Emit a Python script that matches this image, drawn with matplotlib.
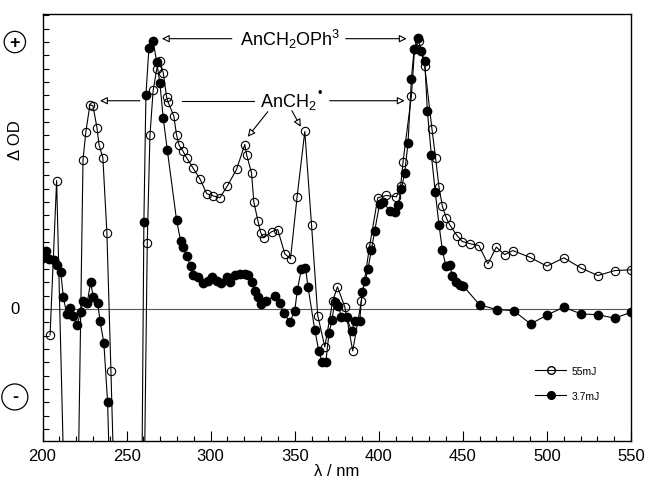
import numpy as np
import matplotlib
matplotlib.use("Agg")
import matplotlib.pyplot as plt
from matplotlib.ticker import MultipleLocator, NullFormatter
from matplotlib.lines import Line2D

plt.rcParams['font.family'] = ['Liberation Sans', 'DejaVu Sans']
plt.rcParams['mathtext.fontset'] = 'custom'
plt.rcParams['mathtext.rm'] = 'Liberation Sans'
plt.rcParams['mathtext.default'] = 'regular'

# ---- data (wavelength nm, delta OD in arbitrary units) ----
wl_55 = [204.5, 208.4, 218.0, 224.1, 225.8, 228.2, 230.0, 232.4, 233.6, 235.9,
         238.3, 240.7, 255.0, 262.3, 263.9, 265.8, 267.9, 269.8, 271.8, 273.8,
         274.7, 278.1, 279.7, 281.3, 283.3, 285.7, 289.4, 293.6, 297.7, 301.3,
         305.5, 310.0, 315.4, 320.3, 321.5, 324.3, 325.7, 328.1, 329.8, 331.6,
         336.2, 339.9, 344.1, 347.5, 351.4, 356.0, 360.0, 363.7, 367.9, 372.6,
         375.4, 379.8, 384.5, 389.7, 394.6, 399.4, 404.5, 410.5, 413.0, 414.4,
         419.4, 421.3, 423.7, 427.3, 431.6, 433.8, 435.8, 437.8, 440.2, 442.2,
         446.5, 449.7, 454.4, 459.5, 464.9, 469.9, 474.8, 479.7, 489.7, 500.0,
         510.1, 520.4, 530.3, 540.2, 550.1]
od_55 = [-0.195, 0.962, -4.0, 1.118, 1.328, 1.53, 1.523, 1.358, 1.23, 1.133,
         0.57, -0.465, -7.0, 0.493, 1.30, 1.637, 1.795, 1.858, 1.77, 1.588,
         1.55, 1.445, 1.305, 1.225, 1.187, 1.133, 1.058, 0.975, 0.863, 0.848,
         0.833, 0.923, 1.045, 1.232, 1.15, 1.02, 0.80, 0.66, 0.57, 0.533,
         0.578, 0.595, 0.413, 0.375, 0.838, 1.33, 0.63, -0.05, -0.285, 0.06,
         0.165, 0.015, -0.315, 0.062, 0.475, 0.833, 0.85, 0.84, 0.92, 1.10,
         1.595, 1.95, 2.01, 1.82, 1.35, 1.13, 0.913, 0.77, 0.68, 0.63,
         0.55, 0.505, 0.488, 0.475, 0.338, 0.463, 0.407, 0.437, 0.388, 0.32,
         0.383, 0.305, 0.25, 0.287, 0.293]

wl_37 = [200.5, 202.1, 204.0, 206.8, 208.4, 210.8, 212.4, 214.4, 216.3, 218.3,
         220.7, 222.7, 224.2, 226.6, 228.6, 230.2, 232.8, 234.2, 236.5, 238.7,
         255.0, 260.3, 261.5, 263.3, 265.8, 267.9, 269.8, 271.8, 274.2, 279.7,
         282.1, 283.7, 285.7, 288.2, 289.6, 292.6, 295.5, 298.5, 301.1, 303.5,
         305.9, 309.5, 311.8, 314.4, 317.4, 320.3, 322.1, 324.3, 326.3, 328.0,
         330.2, 333.2, 338.2, 341.1, 343.5, 347.1, 350.0, 351.6, 354.0, 356.4,
         357.9, 361.9, 364.3, 366.3, 368.5, 370.4, 372.2, 373.8, 375.8, 377.8,
         380.8, 383.9, 385.7, 388.7, 390.0, 392.0, 393.6, 395.6, 397.6, 400.5,
         402.5, 406.5, 409.5, 411.4, 413.4, 415.4, 417.4, 419.4, 421.0, 423.3,
         425.3, 427.3, 428.9, 431.3, 433.6, 435.8, 437.8, 439.8, 442.1, 443.7,
         445.7, 448.1, 450.0, 460.0, 470.2, 480.2, 490.3, 500.2, 510.0, 520.4,
         530.3, 540.2, 550.1]
od_37 = [0.38, 0.437, 0.375, 0.37, 0.33, 0.28, 0.088, -0.038, 0.005, -0.055,
         -0.118, -0.02, 0.058, 0.045, 0.20, 0.088, 0.045, -0.088, -0.257, -0.695,
         -8.0, 0.653, 1.60, 1.958, 2.01, 1.85, 1.695, 1.43, 1.193, 0.668,
         0.512, 0.463, 0.395, 0.32, 0.257, 0.238, 0.195, 0.212, 0.242, 0.212,
         0.195, 0.238, 0.20, 0.257, 0.263, 0.263, 0.257, 0.203, 0.137, 0.09,
         0.038, 0.062, 0.10, 0.045, -0.03, -0.098, -0.015, 0.145, 0.30, 0.308,
         0.165, -0.155, -0.313, -0.398, -0.398, -0.18, -0.08, 0.055, 0.025, -0.058,
         -0.063, -0.167, -0.088, -0.088, 0.125, 0.212, 0.30, 0.443, 0.587, 0.788,
         0.80, 0.737, 0.725, 0.775, 0.895, 1.02, 1.245, 1.725, 1.945, 2.03,
         1.93, 1.86, 1.48, 1.15, 0.875, 0.63, 0.443, 0.325, 0.33, 0.25,
         0.20, 0.18, 0.175, 0.03, -0.005, -0.013, -0.113, -0.045, 0.013, -0.038,
         -0.043, -0.07, -0.025]

x_ticks = [200, 250, 300, 350, 400, 450, 500, 550]
legend_labels = ['55mJ', '3.7mJ']

# ---- figure ----
fig = plt.figure(figsize=(6.5, 4.81), dpi=100)
ax = fig.add_axes([42.5 / 650, 1 - 442 / 481, 588.5 / 650, 427 / 481])

ax.axhline(0, color='0.35', lw=0.8, zorder=1)

ax.plot(wl_55, od_55, '-', color='black', lw=0.8, marker='o', ms=6,
        mfc='none', mec='black', mew=0.8, zorder=3, label=legend_labels[0])
ax.plot(wl_37, od_37, '-', color='black', lw=0.8, marker='o', ms=6,
        mfc='black', mec='black', zorder=4, label=legend_labels[1])

ax.set_xlim(200, 550)
ax.set_ylim(-0.99, 2.21)
ax.set_xticks(x_ticks)
ax.xaxis.set_minor_locator(MultipleLocator(10))
ax.yaxis.set_major_locator(MultipleLocator(0.1))
ax.yaxis.set_major_formatter(NullFormatter())
ax.tick_params(axis='x', which='major', direction='in', length=7, width=0.8,
               labelsize=12, pad=5, top=False)
ax.tick_params(axis='x', which='minor', direction='in', length=3.5, width=0.8, top=False)
ax.tick_params(axis='y', which='major', direction='in', length=4, width=0.8, right=False)
for s in ax.spines.values():
    s.set_linewidth(1.0)

ax.set_xlabel('λ / nm', fontsize=12, labelpad=0)
ax.set_ylabel('Δ OD', fontsize=12)
ax.yaxis.set_label_coords(-0.033, 0.707)

ytr = ax.get_yaxis_transform()
ax.text(-0.047, 2.0, '+', transform=ytr, ha='center', va='center', fontsize=13,
        fontweight='bold', bbox=dict(boxstyle='circle,pad=0.12', fc='white', ec='black', lw=0.9))
ax.text(-0.047, 0.0, '0', transform=ytr, ha='center', va='center', fontsize=12)
ax.text(-0.047, -0.66, '-', transform=ytr, ha='center', va='center', fontsize=13,
        fontweight='bold', bbox=dict(boxstyle='circle,pad=0.25', fc='white', ec='black', lw=0.9))

# ---- annotations ----
arw = dict(arrowstyle='-|>', fc='white', ec='black', lw=0.8, mutation_scale=11,
           shrinkA=0, shrinkB=0)
ax.text(347.1, 2.025, 'AnCH$_2$OPh$^3$', ha='center', va='center', fontsize=13)
ax.annotate('', xy=(271.0, 2.025), xytext=(312.6, 2.025), arrowprops=arw)
ax.annotate('', xy=(416.6, 2.025), xytext=(380.3, 2.025), arrowprops=arw)

ax.text(329.2, 1.56, 'AnCH$_2$', ha='left', va='center', fontsize=13)
ax.text(365.0, 1.615, '\u2022', ha='center', va='center', fontsize=9)
ax.plot([283.0, 325.7], [1.56, 1.56], color='black', lw=0.8, zorder=2)
ax.annotate('', xy=(234.2, 1.56), xytext=(257.9, 1.56), arrowprops=arw)
ax.annotate('', xy=(415.4, 1.56), xytext=(370.8, 1.56), arrowprops=arw)
ax.annotate('', xy=(322.1, 1.29), xytext=(334.0, 1.478), arrowprops=arw)
ax.annotate('', xy=(353.6, 1.365), xytext=(348.3, 1.485), arrowprops=arw)

# ---- legend ----
handles = [Line2D([], [], color='black', lw=0.8, marker='o', ms=5.5, mfc='none', mec='black'),
           Line2D([], [], color='black', lw=0.8, marker='o', ms=5.5, mfc='black', mec='black')]
leg = fig.legend(handles, legend_labels, loc='upper left',
                 bbox_to_anchor=(535 / 650, 1 - 367 / 481), frameon=False,
                 fontsize=7.5, handlelength=3.0, handletextpad=0.5,
                 labelspacing=1.45, borderpad=0, borderaxespad=0)

fig.savefig('out.png', dpi=100)
